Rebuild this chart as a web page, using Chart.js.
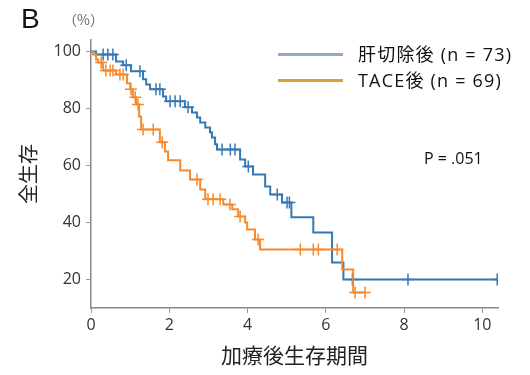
<!DOCTYPE html>
<html>
<head>
<meta charset="utf-8">
<script src="https://cdn.jsdelivr.net/npm/chart.js@4/dist/chart.umd.min.js"></script>
<style>
  html, body { margin: 0; padding: 0; background: #fff; }
  #wrap { position: relative; width: 530px; height: 375px; overflow: hidden; font-family: "Noto Sans CJK JP", "Liberation Sans", sans-serif; }
  #c { position: absolute; left: 0; top: 0; }
  .t { position: absolute; white-space: nowrap; color: #111; }
  .lg { position: absolute; height: 3px; width: 65px; }
  .leg { font-family: "Open Sans", "Noto Sans CJK JP", sans-serif; font-size: 18px; letter-spacing: 1.2px; }
</style>
</head>
<body>
<div id="wrap">
  <canvas id="c" width="530" height="375"></canvas>
  <div class="t" style="left:21px;top:3px;font-size:28px;font-family:'Liberation Sans',sans-serif;">B</div>
  <div class="t" style="left:63px;top:9px;font-size:14px;color:#666;">（%）</div>
  <div class="lg" style="left:278px;top:53px;background:#8fa9c6;"></div>
  <div class="lg" style="left:278px;top:79px;background:#d3a23a;"></div>
  <div class="t leg" style="left:358px;top:40px;">肝切除後 (n = 73)</div>
  <div class="t leg" style="left:358px;top:66px;">TACE後 (n = 69)</div>
  <div class="t" style="left:424px;top:147px;font-size:16px;font-family:'Open Sans',sans-serif;">P = .051</div>
</div>
<script>
// ---- data ----
const xTicks = [0, 2, 4, 6, 8, 10];
const yTicks = [20, 40, 60, 80, 100];

const resectionTimes = [0, 0.13, 0.64, 0.82, 1.02, 1.33, 1.41, 1.51, 1.84, 1.92, 2.40, 2.58, 2.71, 2.79, 2.92, 3.04, 3.09, 3.17, 3.22, 3.81, 3.94, 4.14, 4.45, 4.58, 4.88, 5.12, 5.68, 6.16, 6.45, 10.4];
const resectionSurv  = [100, 98.9, 96.5, 95.1, 93.0, 90.2, 88.4, 86.7, 84.2, 82.5, 80.4, 78.6, 76.8, 75.1, 73.3, 71.6, 69.8, 67.4, 65.6, 62.1, 59.6, 56.8, 52.6, 49.8, 47.0, 41.8, 36.5, 26.0, 20.0, 20.0];
const resectionCensor = [0.31, 0.43, 0.56, 0.90, 1.25, 1.66, 1.76, 2.02, 2.15, 2.28, 2.48, 3.35, 3.56, 3.68, 4.02, 4.76, 5.01, 5.07, 6.68, 8.1, 10.38];

const taceTimes = [0, 0.05, 0.13, 0.18, 0.31, 0.64, 0.92, 1.00, 1.07, 1.15, 1.23, 1.28, 1.76, 1.89, 1.97, 2.28, 2.53, 2.79, 2.92, 3.38, 3.61, 3.76, 3.94, 3.99, 4.19, 4.32, 6.42, 6.70, 7.0];
const taceSurv  = [100, 98.9, 97.2, 96.1, 93.3, 91.9, 88.8, 86.7, 83.9, 81.4, 77.2, 72.6, 68.1, 64.9, 61.8, 58.2, 55.1, 51.6, 48.1, 46.3, 44.6, 42.1, 40.0, 37.5, 34.0, 30.5, 23.5, 15.4, 15.4];
const taceCensor = [0.26, 0.38, 0.49, 0.56, 0.74, 0.82, 1.02, 1.13, 1.20, 1.33, 1.59, 1.82, 2.71, 2.99, 3.12, 3.30, 3.55, 3.81, 4.27, 5.35, 5.68, 5.81, 6.29, 6.75, 7.0];

// ---- helpers ----
function steps(ts, ss) { return ts.map((t, i) => ({ x: t, y: ss[i] })); }
function levelAt(ts, ss, t) {
  let v = ss[0];
  for (let i = 0; i < ts.length; i++) { if (ts[i] <= t) v = ss[i]; }
  return v;
}
function censorPts(cs, ts, ss) { return cs.map(t => ({ x: t, y: levelAt(ts, ss, t) })); }

const BLUE = '#3479b6';
const ORANGE = '#f68a2e';

new Chart(document.getElementById('c'), {
  type: 'scatter',
  data: {
    datasets: [
      { data: steps(taceTimes, taceSurv), showLine: true, stepped: true, borderColor: ORANGE, borderWidth: 2, pointRadius: 0 },
      { data: censorPts(taceCensor, taceTimes, taceSurv), showLine: false, pointStyle: 'cross', pointRadius: 6, borderColor: ORANGE, borderWidth: 1.5 },
      { data: steps(resectionTimes, resectionSurv), showLine: true, stepped: true, borderColor: BLUE, borderWidth: 2, pointRadius: 0 },
      { data: censorPts(resectionCensor, resectionTimes, resectionSurv), showLine: false, pointStyle: 'cross', pointRadius: 6, borderColor: BLUE, borderWidth: 1.5 }
    ]
  },
  options: {
    responsive: false,
    animation: false,
    layout: { padding: { top: 40, right: 32, left: 0, bottom: 0 } },
    plugins: { legend: { display: false }, tooltip: { enabled: false } },
    elements: { point: { hoverRadius: 6 } },
    scales: {
      x: {
        type: 'linear', min: 0, max: 10.4,
        afterBuildTicks: s => { s.ticks = xTicks.map(v => ({ value: v })); },
        afterFit: s => { s.height = 67; },
        grid: { display: true, drawOnChartArea: false, drawTicks: true, tickLength: 5, color: '#999' },
        border: { display: true, color: '#888', width: 1.5 },
        ticks: { color: '#333', font: { size: 16, family: "'Open Sans', sans-serif" }, padding: 3 },
        title: { display: true, text: '加療後生存期間', color: '#222', font: { size: 21, family: "'Noto Sans CJK JP'" }, padding: { top: 4, bottom: 7 }, align: 'center' }
      },
      y: {
        type: 'linear', min: 10, max: 104,
        afterBuildTicks: s => { s.ticks = yTicks.map(v => ({ value: v })); },
        afterFit: s => { s.width = 91; },
        grid: { display: true, drawOnChartArea: false, drawTicks: true, tickLength: 5, color: '#999' },
        border: { display: true, color: '#888', width: 1.5 },
        ticks: { color: '#333', font: { size: 16, family: "'Open Sans', sans-serif" }, padding: 5 },
        title: { display: true, text: '全生存', color: '#222', font: { size: 20, family: "'Noto Sans CJK JP'" }, padding: { top: 16, bottom: 0 } }
      }
    }
  }
});
</script>
</body>
</html>
